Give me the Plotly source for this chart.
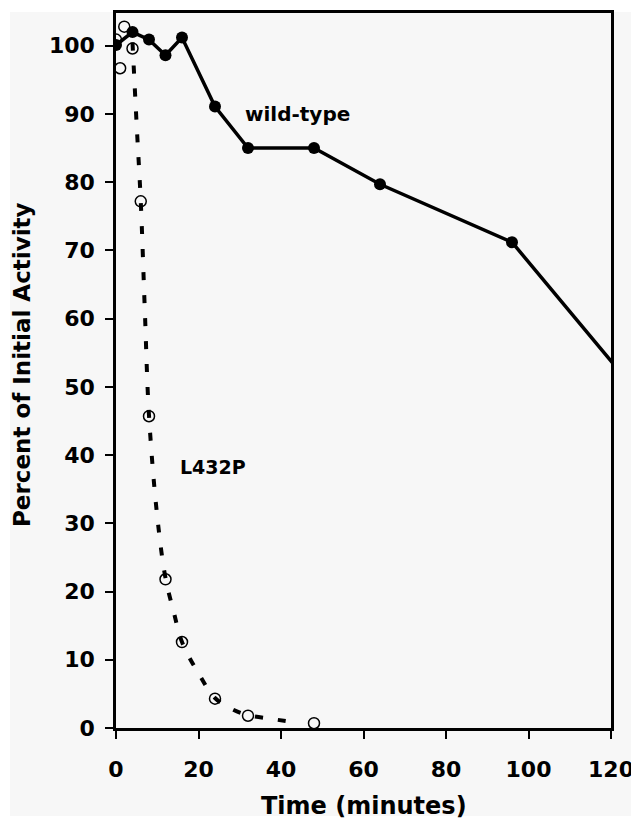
import plotly.graph_objects as go

# ---- data ----
wt_time = [0, 4, 8, 12, 16, 24, 32, 48, 64, 96, 128]
wt_activity = [100.1, 102.0, 100.9, 98.6, 101.2, 91.1, 85.0, 85.0, 79.7, 71.2, 48.0]

mut_time = [0, 1, 2, 4, 6, 8, 12, 16, 24, 32, 48]
mut_activity = [100.9, 96.7, 102.8, 99.6, 77.2, 45.7, 21.8, 12.6, 4.3, 1.8, 0.7]

fit_time = [4, 5, 6, 7, 8, 10, 12, 14, 16, 20, 24, 28, 32, 38, 44]
fit_activity = [100.5, 88.5, 77.2, 61.0, 45.8, 31.0, 22.0, 17.0, 12.6, 8.0, 4.4, 2.8, 1.9, 1.3, 0.8]

x_ticks = [0, 20, 40, 60, 80, 100, 120]
y_ticks = [0, 10, 20, 30, 40, 50, 60, 70, 80, 90, 100]

FONT = "DejaVu Sans"
BG = "#f7f7f7"

fig = go.Figure()

fig.add_trace(go.Scatter(
    x=fit_time, y=fit_activity, mode="lines",
    line=dict(color="black", width=4, dash="8px,15px", shape="spline"),
    showlegend=False, hoverinfo="skip"))

fig.add_trace(go.Scatter(
    x=mut_time, y=mut_activity, mode="markers", name="L432P",
    marker=dict(symbol="circle-open", size=11, color="black",
                line=dict(color="black", width=1.5)),
    showlegend=False))

fig.add_trace(go.Scatter(
    x=wt_time, y=wt_activity, mode="lines+markers", name="wild-type",
    line=dict(color="black", width=3.5),
    marker=dict(symbol="circle", size=12, color="black"),
    showlegend=False))

axis_common = dict(
    showline=True, linecolor="black", linewidth=2.5, mirror=True,
    ticks="outside", ticklen=8, tickwidth=2, tickcolor="black",
    showgrid=False, zeroline=False, automargin=False,
    tickfont=dict(family=FONT, size=22, color="black", weight="bold"),
)

fig.update_xaxes(range=[0, 120], tickvals=x_ticks, ticklabelstandoff=12, **axis_common)
fig.update_yaxes(range=[0, 104.8], tickvals=y_ticks, ticklabelstandoff=6, **axis_common)

# page body adds an 8px offset; figure sized to fit the 639x821 window
OFF = 8
W, H = 639 - OFF, 821 - OFF
L, T = 116 - OFF, 13 - OFF
R = W - (611 - OFF)
B = H - (728 - OFF)
pw, ph = W - L - R, H - T - B

def px(xs):
    return (xs - OFF - L) / pw

def py(ys):
    return (H - B - (ys - OFF)) / ph

fig.update_layout(
    width=W, height=H,
    margin=dict(l=L, r=R, t=T, b=B),
    paper_bgcolor="white", plot_bgcolor=BG,
    font=dict(family=FONT, color="black"),
    shapes=[dict(type="rect", xref="paper", yref="paper", layer="below",
                 x0=px(10), x1=px(639), y0=py(816), y1=py(12),
                 fillcolor=BG, line=dict(width=0))],
    annotations=[
        dict(text="<b>Time (minutes)</b>", xref="paper", yref="paper",
             x=0.5, y=py(806), xanchor="center", yanchor="middle", showarrow=False,
             font=dict(family=FONT, size=24, color="black")),
        dict(text="<b>Percent of Initial Activity</b>", xref="paper", yref="paper",
             x=px(22), y=py(365), xanchor="center", yanchor="middle",
             textangle=-90, showarrow=False,
             font=dict(family=FONT, size=23, color="black")),
        dict(text="<b>wild-type</b>", x=44.1, y=90, showarrow=False,
             font=dict(family=FONT, size=20, color="black")),
        dict(text="<b>L432P</b>", x=23.5, y=38.3, showarrow=False,
             font=dict(family=FONT, size=19, color="black")),
    ],
)

fig.write_html("out.html")
